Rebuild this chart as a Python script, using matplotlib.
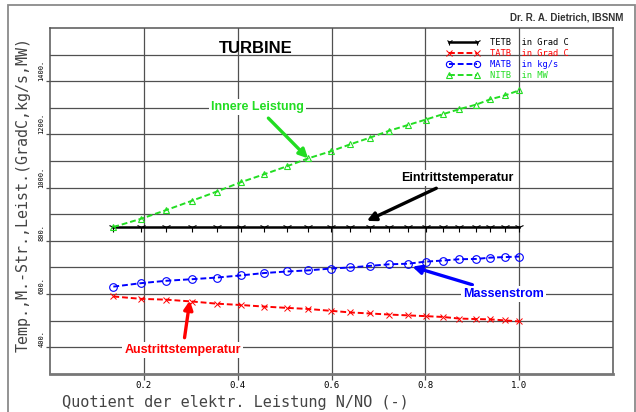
import numpy as np
import matplotlib
matplotlib.use('Agg')
import matplotlib.pyplot as plt
from matplotlib.patches import Rectangle

# quotient N/N0 (same for all series)
nq = [0.135, 0.194, 0.248, 0.303, 0.355, 0.406, 0.456, 0.506, 0.550, 0.599, 0.640,
      0.682, 0.723, 0.762, 0.801, 0.837, 0.872, 0.908, 0.938, 0.970, 1.000]

# Eintrittstemperatur, Grad C
tetb = [852, 852, 852, 852, 852, 852, 852, 852, 852, 852, 852,
        852, 852, 852, 852, 852, 852, 852, 852, 852, 852]
# Austrittstemperatur, Grad C
tatb = [591, 582, 579, 572, 564, 559, 553, 548, 544, 537, 531,
        527, 523, 520, 517, 514, 508, 506, 505, 501, 497]
# Massenstrom, kg/s
matb = [628, 641, 650, 656, 662, 670, 679, 685, 689, 696, 700,
        706, 712, 714, 722, 726, 731, 732, 737, 739, 741]
# innere Leistung, MW
nitb = [852, 883, 916, 951, 985, 1020, 1050, 1081, 1110, 1137, 1163,
        1188, 1214, 1235, 1256, 1276, 1295, 1312, 1332, 1347, 1366]

labels = ['TETB  in Grad C', 'TATB  in Grad C', 'MATB  in kg/s', 'NITB  in MW']
xticks = [0.2, 0.4, 0.6, 0.8, 1.0]
yticks = [400, 600, 800, 1000, 1200, 1400]
ygrid = [400, 500, 600, 700, 800, 900, 1000, 1100, 1200, 1300, 1400, 1500]

red = '#ff0000'
blue = '#0000ff'
green = '#22dd22'
mono = 'DejaVu Sans Mono'
sans = 'Liberation Sans'

fig = plt.figure(figsize=(6.36, 4.12), dpi=100)
ax = fig.add_axes([0.0786, 0.0925, 0.8855, 0.8395])

# outer frame of the sheet
fig.patches.append(Rectangle((8 / 636, -0.1), 627 / 636, 1.1 - 5 / 412,
                             transform=fig.transFigure, fill=False,
                             ec='#8a8a8a', lw=1.3))

ax.set_xlim(0, 1.2)
ax.set_ylim(300, 1600)

for g in ygrid:
    ax.axhline(g, color='#505050', lw=0.9, zorder=0)
for g in xticks:
    ax.axvline(g, color='#505050', lw=0.9, zorder=0)

ax.plot(nq, tetb, color='black', lw=1.8, marker='1', ms=7, mew=0.8,
        label=labels[0], zorder=3)
ax.plot(nq, tatb, color=red, lw=1.4, ls=(0, (3, 1.5)), marker='x', ms=5,
        mew=0.7, label=labels[1], zorder=3)
ax.plot(nq, matb, color=blue, lw=1.4, ls=(0, (3, 1.5)), marker='o', ms=5.5,
        mew=0.8, mfc='none', label=labels[2], zorder=3)
ax.plot(nq, nitb, color=green, lw=1.4, ls=(0, (3, 1.5)), marker='^', ms=5,
        mew=0.8, mfc='none', label=labels[3], zorder=3)

ax.set_xticks(xticks)
ax.set_xticklabels([f'{v:.1f}' for v in xticks], fontsize=6.5, family=mono)
ax.set_yticks(yticks)
ax.set_yticklabels([f'{v}.' for v in yticks], fontsize=5, family=mono,
                   rotation=90, va='bottom')
ax.tick_params(axis='x', direction='out', length=4, width=0.9, color='#505050', pad=1)
ax.tick_params(axis='y', direction='out', length=3, width=0.9, color='#505050', pad=1)

for s in ['left', 'right', 'top']:
    ax.spines[s].set_color('#555555')
    ax.spines[s].set_linewidth(1.1)
ax.spines['bottom'].set_color('#777777')
ax.spines['bottom'].set_linewidth(2)

ax.set_ylabel('Temp.,M.-Str.,Leist.(GradC,kg/s,MW)', family=mono, fontsize=10.8,
              color='#444444')
ax.yaxis.set_label_coords(-0.034, 0.52)
ax.set_xlabel('Quotient der elektr. Leistung N/NO (-)', family=mono, fontsize=11,
              color='#444444', ha='left')
ax.xaxis.set_label_coords(0.022, -0.062)

leg = ax.legend(loc='upper left', bbox_to_anchor=(0.703, 0.972), frameon=False,
                prop={'family': mono, 'size': 6.3}, numpoints=2,
                handlelength=3.8, handletextpad=1.2, labelspacing=0.25,
                borderpad=0, borderaxespad=0, labelcolor='linecolor')
for h in leg.legend_handles:
    h.set_markersize(4.5)

ax.text(0.366, 0.942, 'TURBINE', transform=ax.transAxes, ha='center', va='center',
        fontsize=12, fontweight='bold', family=sans)
fig.text(623 / 636, 1 - 18 / 412, 'Dr. R. A. Dietrich, IBSNM', ha='right',
         va='center', fontsize=7, fontweight='bold', family=sans, color='#333333')

box = dict(fc='white', ec='none', pad=1.5)
arrow = dict(arrowstyle='-|>', lw=2.4, mutation_scale=13, shrinkA=3, shrinkB=0)

ax.annotate('Innere Leistung', xy=(nq[8], nitb[8]), xytext=(0.442, 1303),
            ha='center', va='center', fontsize=9, fontweight='bold', family=sans,
            color=green, bbox=box, arrowprops=dict(arrow, color=green), zorder=5)
ax.annotate('Eintrittstemperatur', xy=(0.675, 875), xytext=(0.868, 1035),
            ha='center', va='center', fontsize=9, fontweight='bold', family=sans,
            color='black', bbox=box, arrowprops=dict(arrow, color='black'), zorder=5)
ax.annotate('Massenstrom', xy=(0.772, 703), xytext=(0.966, 600),
            ha='center', va='center', fontsize=9, fontweight='bold', family=sans,
            color=blue, bbox=box, arrowprops=dict(arrow, color=blue), zorder=5)
ax.annotate('Austrittstemperatur', xy=(0.298, 576), xytext=(0.283, 390),
            ha='center', va='center', fontsize=9, fontweight='bold', family=sans,
            color=red, bbox=box, arrowprops=dict(arrow, color=red), zorder=5)

fig.savefig('out.png', dpi=100)
